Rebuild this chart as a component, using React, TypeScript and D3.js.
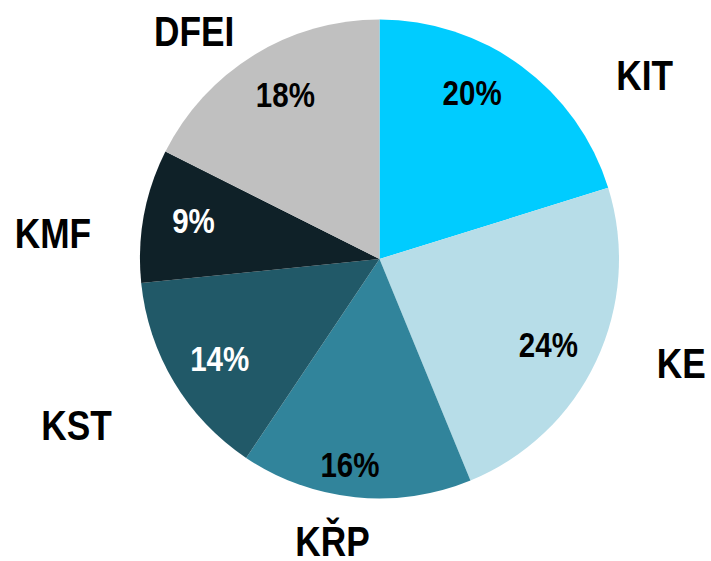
import React from "react";
import * as d3 from "d3";

const categories = ["KIT", "KE", "KŘP", "KST", "KMF", "DFEI"];
const values = [20.2, 23.6, 15.6, 14.0, 9.0, 17.6];
const colors = ["#00CCFF", "#B7DDE8", "#31849B", "#215968", "#0F2128", "#C0C0C0"];
const pctColors = ["#000000", "#000000", "#000000", "#FFFFFF", "#FFFFFF", "#000000"];

// label placement (polar: degrees clockwise from top, radius in px)
const outerLabelPolar: [number, number][] = [
  [55.2, 323], [108.9, 319], [189.5, 285], [241.4, 345], [274.6, 327.6], [320.9, 294],
];
const innerLabelPolar: [number, number][] = [
  [29, 191], [116.7, 189], [188.2, 207], [238.2, 188], [281.8, 190], [330.3, 190],
];

const W = 711;
const H = 561;
const CX = 379.5;
const CY = 259;
const R = 239.5;
const FONT = "'Liberation Sans', Arial, sans-serif";
const NARROW = 0.82;

function polar(deg: number, r: number): [number, number] {
  const a = (deg * Math.PI) / 180;
  return [CX + r * Math.sin(a), CY - r * Math.cos(a)];
}

export default function App() {
  const pie = d3.pie<number>().sort(null).value((d) => d);
  const arcs = pie(values);
  const arc = d3.arc<d3.PieArcDatum<number>>().innerRadius(0).outerRadius(R);
  const total = d3.sum(values);
  const fmt = (v: number) => `${Math.round((v / total) * 100)}%`;

  return (
    <div style={{ position: "fixed", left: 0, top: 0 }}>
      <svg width={W} height={H} style={{ display: "block", background: "#fff" }}>
        <g transform={`translate(${CX},${CY})`}>
          {arcs.map((a, i) => (
            <path key={categories[i]} d={arc(a) || ""} fill={colors[i]} />
          ))}
        </g>
        {arcs.map((a, i) => {
          const [x, y] = polar(innerLabelPolar[i][0], innerLabelPolar[i][1]);
          return (
            <text
              key={"p" + i}
              transform={`translate(${x},${y}) scale(${NARROW},1)`}
              dy="0.36em"
              textAnchor="middle"
              fontFamily={FONT}
              fontWeight="bold"
              fontSize={36}
              fill={pctColors[i]}
            >
              {fmt(a.data)}
            </text>
          );
        })}
        {categories.map((c, i) => {
          const [x, y] = polar(outerLabelPolar[i][0], outerLabelPolar[i][1]);
          return (
            <text
              key={"c" + i}
              transform={`translate(${x},${y}) scale(${NARROW},1)`}
              dy="0.36em"
              textAnchor="middle"
              fontFamily={FONT}
              fontWeight="bold"
              fontSize={43}
              fill="#000"
            >
              {c}
            </text>
          );
        })}
      </svg>
    </div>
  );
}
